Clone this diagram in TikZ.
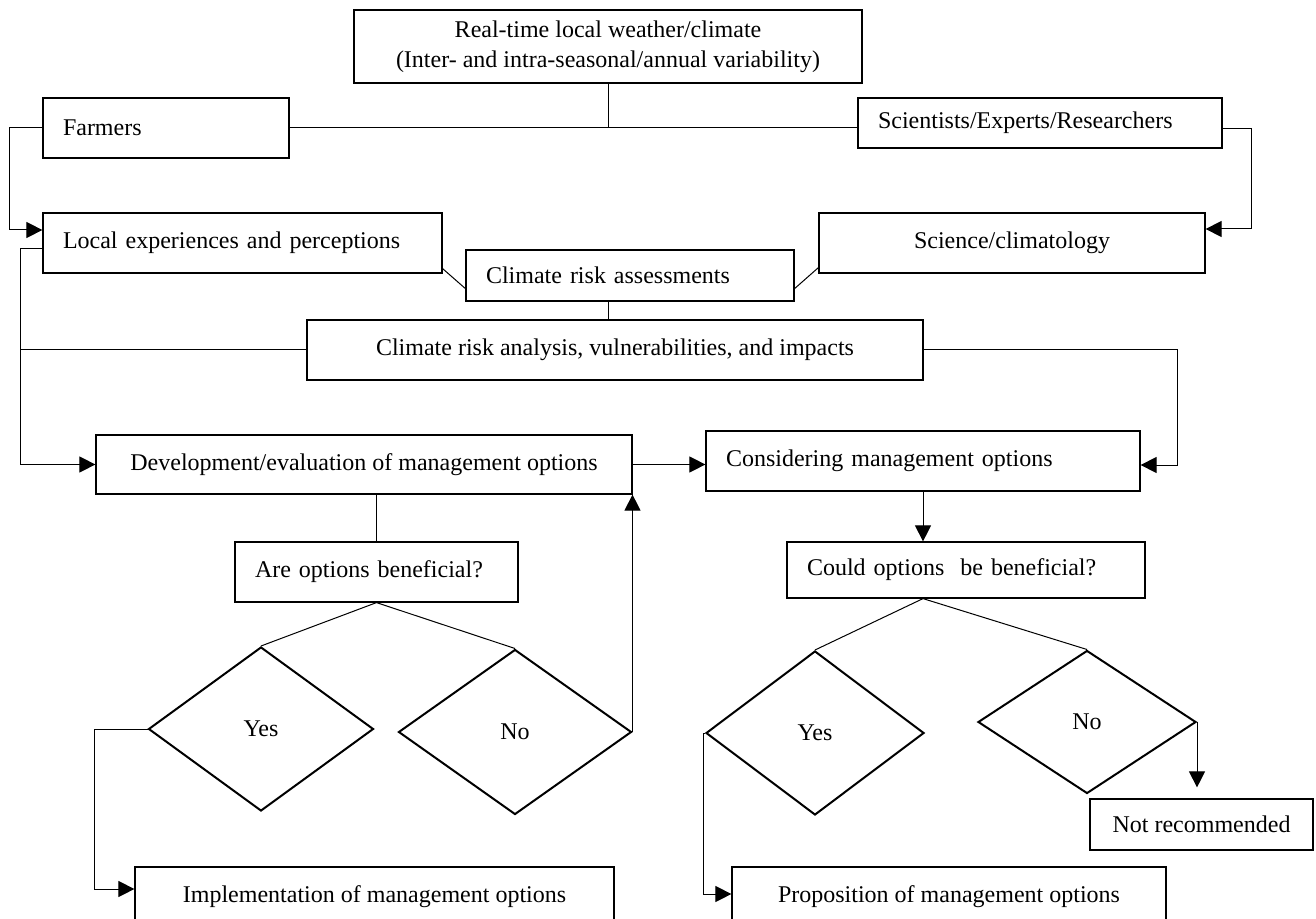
\documentclass[tikz,border=0pt]{standalone}
\usepackage{fontspec}
\setmainfont{Liberation Serif}
\usetikzlibrary{shapes,arrows,positioning,calc,arrows.meta}

\begin{document}
\begin{tikzpicture}[
    x=0.5pt, y=-0.5pt, line width=0.5pt,
    every node/.style={font=\fontsize{12}{15}\selectfont},
    box/.style={rectangle, draw, line width=0.6pt, inner xsep=10pt, inner ysep=0pt, align=center},
    lbox/.style={box, align=left},
    choice/.style={diamond, draw, line width=1pt, inner sep=0pt},
    arrow/.style={-{Triangle[length=8pt, width=8pt]}}
]
    \useasboundingbox (0,0) rectangle (1316,919);
    \node[box, minimum width=254pt, minimum height=36.5pt] (rt) at (608,46.5) {Real-time local weather/climate\\(Inter- and intra-seasonal/annual variability)};
    \node[lbox, text width=103pt, minimum height=30pt] (farm) at (166,128) {Farmers};
    \node[lbox, text width=162pt, minimum height=25pt] (sci) at (1040,123) {Scientists/Experts/Researchers};
    \node[lbox, text width=179.5pt, minimum height=30pt] (loc) at (242.5,243) {Local experiences and perceptions};
    \node[box, minimum width=193pt, minimum height=30pt] (sciclim) at (1012,243) {Science/climatology};
    \node[lbox, text width=144pt, minimum height=25.5pt] (assess) at (630,275.5) {Climate risk assessments};
    \node[box, minimum width=308pt, minimum height=30pt] (anal) at (615,350) {Climate risk analysis, vulnerabilities, and impacts};
    \node[box, minimum width=268pt, minimum height=29.5pt] (dev) at (364,464.5) {Development/evaluation of management options};
    \node[lbox, text width=197pt, minimum height=30pt] (cons) at (923,461) {Considering management options};
    \node[lbox, text width=121.5pt, minimum height=30pt] (are) at (376.5,572) {Are options beneficial?};
    \node[lbox, text width=159pt, minimum height=28pt] (could) at (966,570) {Could options\ \ be beneficial?};
    \foreach \n/\x/\y/\w/\h/\t in {yesL/261/729/112.5/82/Yes, noL/515/732/116.5/82.5/No, yesR/815/733/109/82/Yes, noR/1087/722/109/71.5/No} {
        \node[choice, minimum width=\w pt, minimum height=\h pt] (\n) at (\x,\y) {\t};
    }
    \node[box, minimum width=111.5pt, minimum height=25.5pt] (notrec) at (1201.5,824.5) {Not recommended};
    \node[box, minimum width=239.5pt, minimum height=30pt] (impl) at (374.5,897) {Implementation of management options};
    \node[box, minimum width=217pt, minimum height=30pt] (prop) at (949,897) {Proposition of management options};

    \draw (rt.south) -- (rt.south |- farm.east);
    \draw (farm.east) -- (farm.east -| sci.west);
    \draw[arrow] (farm.west) -- ++(-33,0) |- ([yshift=6.5pt]loc.west);
    \draw[arrow] ([yshift=-3pt]sci.east) -- ++(29,0) |- ([yshift=7pt]sciclim.east);
    \coordinate (lft) at (20,249);
    \draw ([yshift=-3pt]loc.west) -- (lft);
    \draw[arrow] (lft) |- (dev.west);
    \draw (anal.west) -- (anal.west -| lft);
    \draw ([yshift=2.5pt]loc.south east) -- ([yshift=6.5pt]assess.south west);
    \draw ([yshift=6.5pt]assess.south east) -- ([yshift=3pt]sciclim.south west);
    \draw (assess.south -| rt.south) -- (anal.north -| rt.south);
    \draw[arrow] (anal.east) -- ++(254,0) |- ([yshift=-2pt]cons.east);
    \draw[arrow] (dev.east) -- (dev.east -| cons.west);
    \draw (are.north) -- (are.north |- dev.south);
    \draw[arrow] (cons.south) -- (cons.south |- could.north);
    \draw (yesL.north) -- (are.south) -- (noL.north);
    \draw (yesR.north) -- (could.south -| cons.south) -- (noR.north);
    \draw[arrow] (noL.east) -- (noL.east |- dev.south);
    \draw[arrow] (yesL.west) -- ++(-53,0) |- ([yshift=4pt]impl.west);
    \draw[arrow] (yesR.west) -- ++(-2,0) |- ([yshift=1.5pt]prop.west);
    \draw[arrow] (noR.east) -- ($(noR.east |- notrec.north)+(0,-11)$);
\end{tikzpicture}
\end{document}
